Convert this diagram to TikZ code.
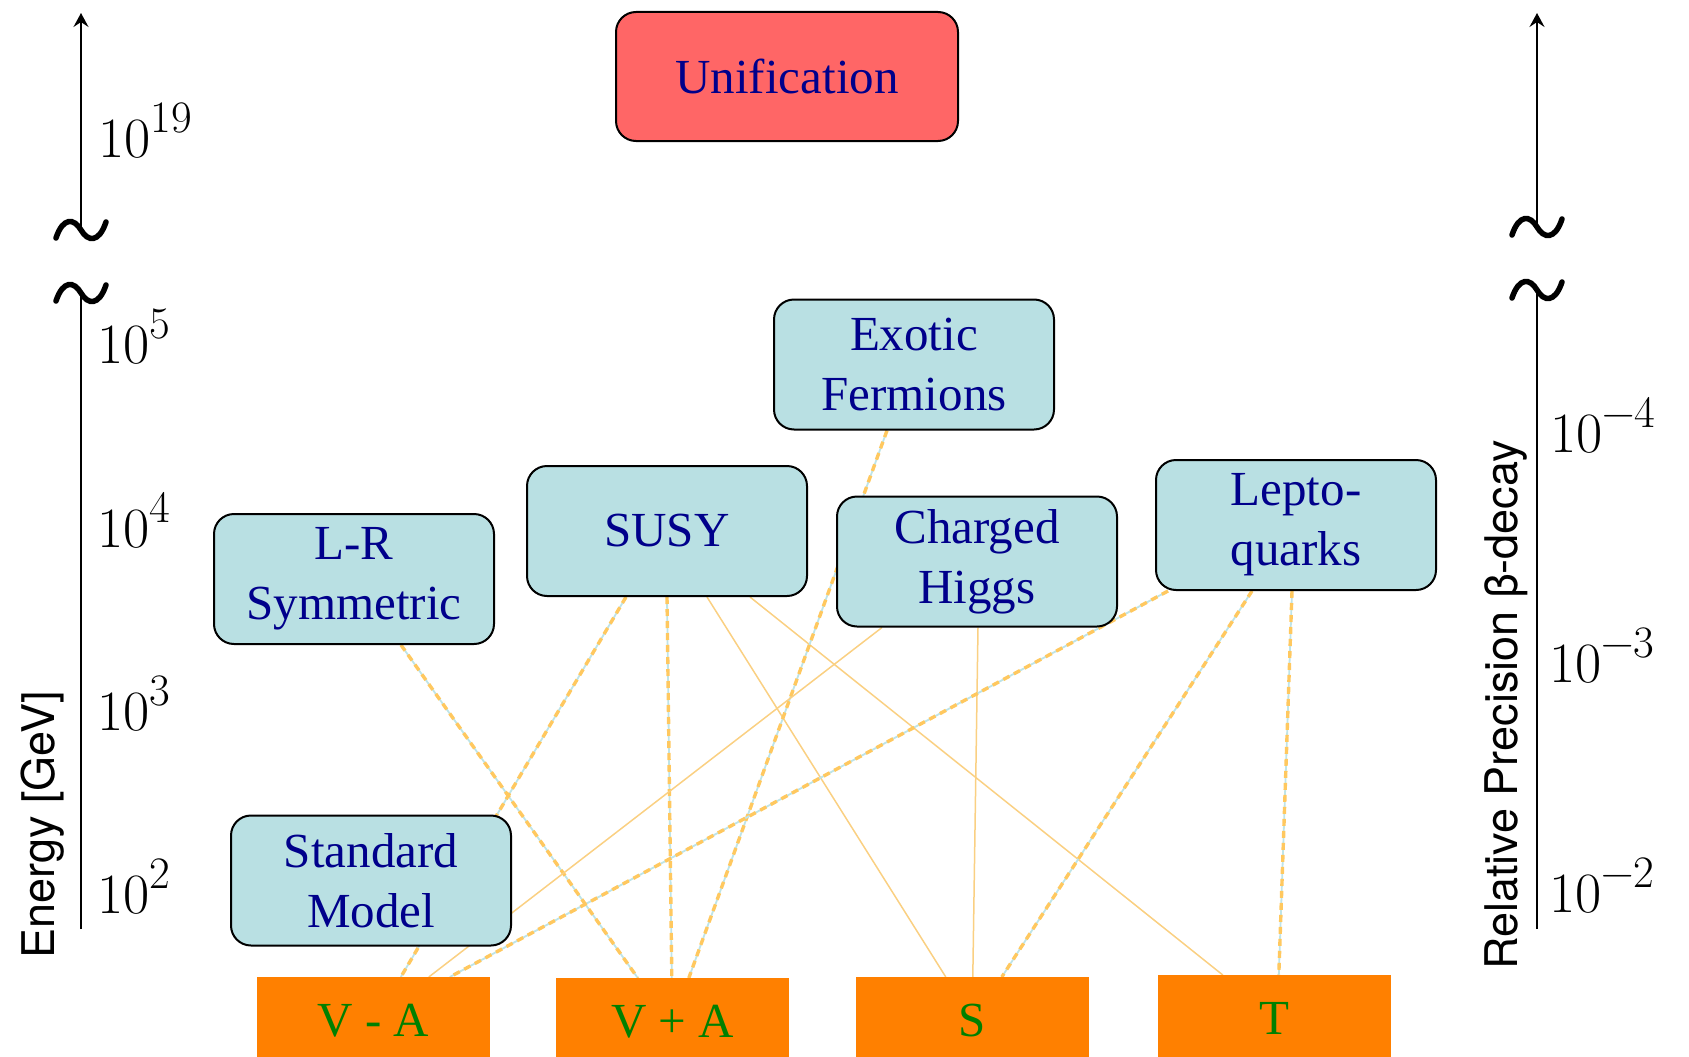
\documentclass[tikz,border=0pt]{standalone}
\usepackage{fontspec}
\setsansfont{TeX Gyre Heros}
\newfontfamily\boxfont{Liberation Serif}
\usetikzlibrary{arrows.meta,calc,backgrounds}
\newcommand{\tenpow}[1]{10\raisebox{25pt}{\fontsize{45}{45}\selectfont #1}}
\definecolor{boxblue}{RGB}{185,224,227}
\definecolor{unired}{RGB}{255,102,102}
\definecolor{botorange}{RGB}{255,128,0}
\definecolor{txtblue}{RGB}{0,0,139}
\definecolor{txtgreen}{RGB}{0,128,0}
\definecolor{lnorange}{RGB}{255,200,95}
\definecolor{lnthincol}{RGB}{250,208,130}
\definecolor{lncyan}{RGB}{190,228,232}
\tikzset{
  modelbox/.style={draw=black, line width=2pt, rounded corners=20pt, fill=boxblue,
    minimum width=280pt, minimum height=130pt, align=center, text=txtblue,
    inner sep=0pt, font={\boxfont\fontsize{49}{60}\selectfont}},
  unibox/.style={modelbox, fill=unired, minimum width=342pt, minimum height=129pt},
  opbox/.style={draw=none, fill=botorange, minimum width=233pt, minimum height=86pt,
    text=txtgreen, inner sep=0pt, font={\boxfont\fontsize{49}{60}\selectfont}},
  ticklab/.style={anchor=base west, inner sep=0pt, font=\fontsize{57}{57}\selectfont},
  axlab/.style={rotate=90, inner sep=0pt, font=\sffamily\fontsize{45}{45}\selectfont},
  axisline/.style={draw=black, line width=2pt},
  axisarrow/.style={axisline, -{Stealth[length=14pt, width=15pt, inset=5pt]}},
  lndash/.style={draw=lnorange, line width=3.4pt, dash pattern=on 7pt off 5pt,
    preaction={draw=lncyan, line width=1.8pt, solid}},
  lnthin/.style={draw=lnthincol, line width=1.5pt},
  brk/.pic={\draw[line width=5.5pt, line cap=round]
     (-25,8) .. controls (-18,-13) and (-7,-12) .. (0,0)
     .. controls (7,12) and (18,13) .. (25,-8);}
}
\begin{document}
\begin{tikzpicture}[x=1pt, y=-1pt]
\useasboundingbox (0,0) rectangle (1689,1057);
\clip (0,0) rectangle (1689,1057);

% boxes
\node[unibox] (uni) at (787,76.5) {Unification};
\node[modelbox] (exo) at (914,364.5) {Exotic\\Fermions};
\node[modelbox] (susy) at (667,531) {SUSY};
\node[modelbox] (ch) at (977,561.5) {Charged\\Higgs};
\node[modelbox] (lq) at (1296,525) {Lepto-\\quarks};
\node[modelbox] (lr) at (354,579) {L-R\\Symmetric};
\node[modelbox] (sm) at (371,880.5) {Standard\\Model};

\node[opbox, anchor=north] (vma) at (373.5,977) {V - A};
\node[opbox, anchor=north] (vpa) at (672.5,978) {V + A};
\node[opbox, anchor=north] (ss) at (972.5,977) {S};
\node[opbox, anchor=north] (tt) at (1274.5,975) {T};

% connectors
\begin{pgfonlayer}{background}
\draw[lndash] ($(lr.south west)+(188,0)$) -- ($(vpa.north west)+(82,0)$);
\draw[lndash] ($(susy.south west)+(100,0)$) -- ($(vma.north west)+(144,0)$);
\draw[lndash] ($(susy.south west)+(141,0)$) -- ($(vpa.north west)+(116,0)$);
\draw[lnthin] ($(susy.south west)+(181,0)$) -- ($(ss.north west)+(90,0)$);
\draw[lnthin] ($(susy.south west)+(224,0)$) -- ($(tt.north west)+(65,0)$);
\draw[lndash] ($(exo.south west)+(114,0)$) -- ($(vpa.north west)+(133,0)$);
\draw[lnthin] ($(ch.south west)+(46,0)$) -- ($(vma.north west)+(172,0)$);
\draw[lnthin] ($(ch.south west)+(142,0)$) -- ($(ss.north west)+(117,0)$);
\draw[lndash] ($(lq.south west)+(13,0)$) -- ($(vma.north west)+(193,0)$);
\draw[lndash] ($(lq.south west)+(97,0)$) -- ($(ss.north west)+(146,0)$);
\draw[lndash] ($(lq.south west)+(137,0)$) -- ($(tt.north west)+(121,0)$);
\end{pgfonlayer}

% left axis
\coordinate (la0) at (81,929);
\coordinate (la1) at (81,293);
\coordinate (la2) at (81,230);
\coordinate (la3) at (81,13);
\draw[axisline] (la0) -- (la1);
\draw[axisarrow] (la2) -- (la3);
\pic at (la1) {brk};
\pic at (la2) {brk};
\node[axlab] (elab) at (43,825) {Energy [GeV]};
\node[ticklab] (e19) at (98,157) {\tenpow{19}};
\node[ticklab] (e5) at (97,363) {\tenpow{5}};
\node[ticklab] (e4) at (97,547) {\tenpow{4}};
\node[ticklab] (e3) at (97,730) {\tenpow{3}};
\node[ticklab] (e2) at (97,913) {\tenpow{2}};

% right axis
\coordinate (ra0) at (1537,929);
\coordinate (ra1) at (1537,290);
\coordinate (ra2) at (1537,227);
\coordinate (ra3) at (1537,13);
\draw[axisline] (ra0) -- (ra1);
\draw[axisarrow] (ra2) -- (ra3);
\pic at (ra1) {brk};
\pic at (ra2) {brk};
\node[axlab] (plab) at (1506,705) {Relative Precision β-decay};
\node[ticklab] (p4) at (1550,452) {\tenpow{−4}};
\node[ticklab] (p3) at (1549,682) {\tenpow{−3}};
\node[ticklab] (p2) at (1549,912) {\tenpow{−2}};
\end{tikzpicture}
\end{document}
